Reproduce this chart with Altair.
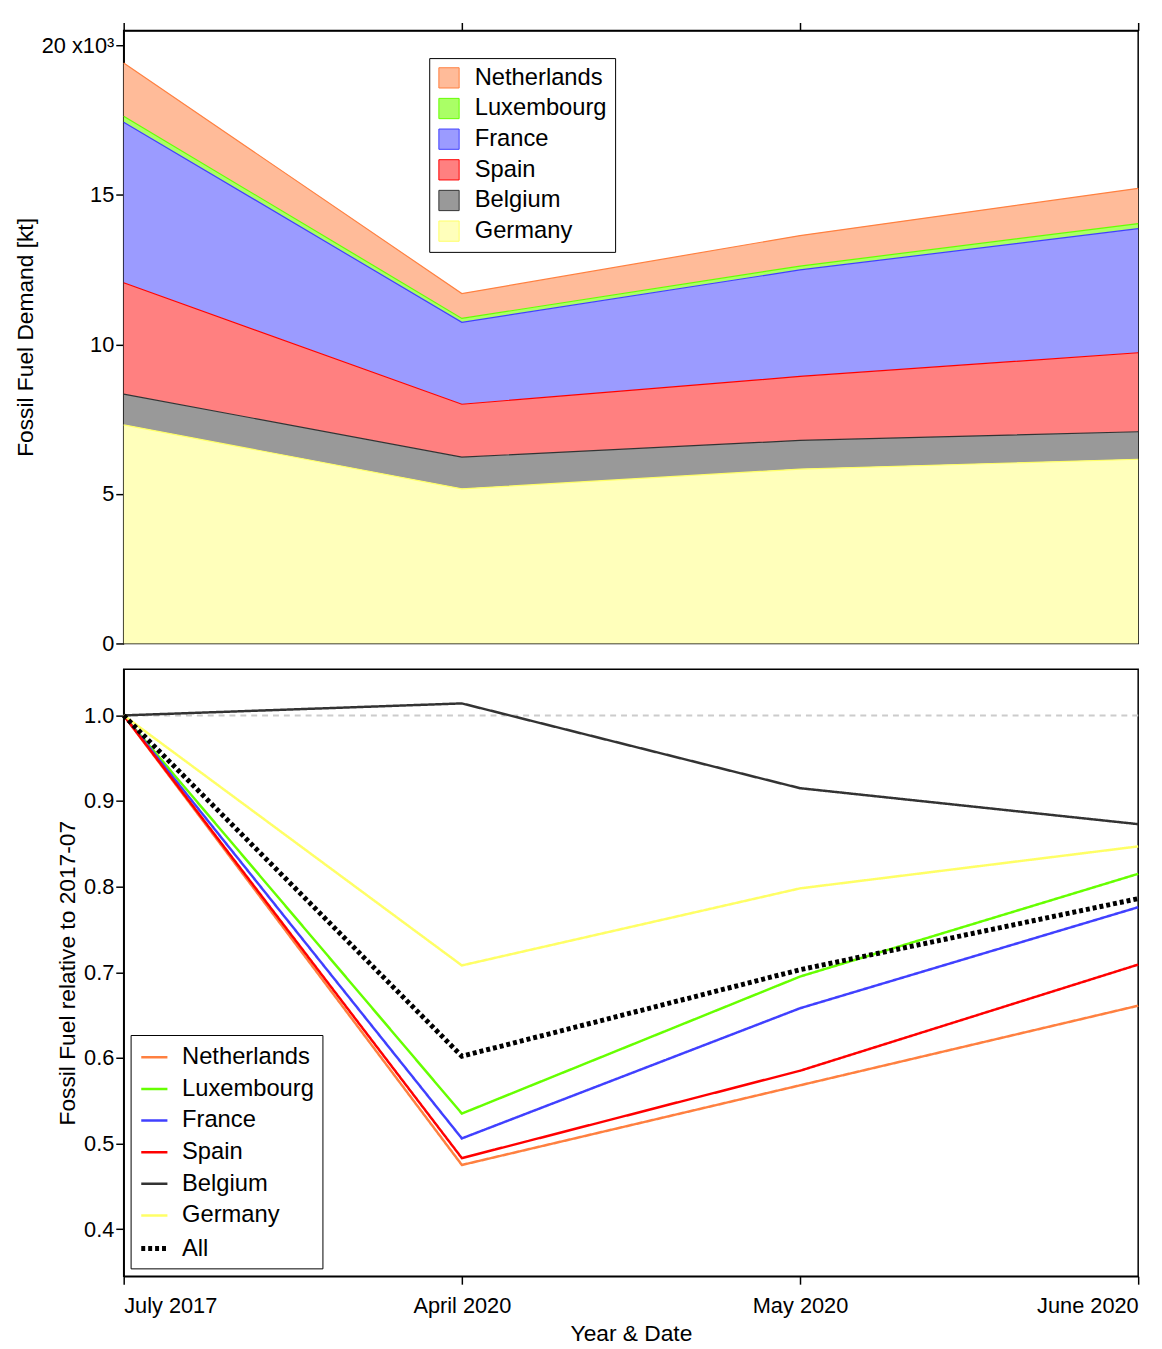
import altair as alt
import pandas as pd

dates = ["July 2017", "April 2020", "May 2020", "June 2020"]
countries = ["Netherlands", "Luxembourg", "France", "Spain", "Belgium", "Germany"]

# absolute demand [kt]
demand = {
    "Germany": [7.31, 5.17, 5.83, 6.16],
    "Belgium": [1.03, 1.06, 0.96, 0.92],
    "Spain": [3.72, 1.77, 2.14, 2.64],
    "France": [5.37, 2.74, 3.56, 4.15],
    "Luxembourg": [0.20, 0.13, 0.13, 0.17],
    "Netherlands": [1.78, 0.83, 1.02, 1.18],
}

# relative to 2017-07
relative = {
    "Netherlands": [1.0, 0.475, 0.568, 0.661],
    "Luxembourg": [1.0, 0.535, 0.695, 0.815],
    "France": [1.0, 0.506, 0.658, 0.776],
    "Spain": [1.0, 0.483, 0.585, 0.709],
    "Belgium": [1.0, 1.014, 0.915, 0.873],
    "Germany": [1.0, 0.708, 0.798, 0.847],
    "All": [1.0, 0.602, 0.703, 0.786],
}

fill_colors = ["#ffbb99", "#aaff66", "#9b9bff", "#ff8080", "#999999", "#ffffbb"]
line_colors = ["#ff8040", "#66ff00", "#4040ff", "#ff0000", "#333333", "#ffff66"]

FONT = "Liberation Sans"

rows = []
for c in countries:
    for i, v in enumerate(demand[c]):
        rows.append({"country": c, "idx": i, "value": v, "rank": countries.index(c)})
df_top = pd.DataFrame(rows)

rows = []
for c, vals in relative.items():
    for i, v in enumerate(vals):
        rows.append({"country": c, "idx": i, "value": v})
df_bot = pd.DataFrame(rows)

label_expr = "['July 2017','April 2020','May 2020','June 2020'][datum.value]"

x_top = alt.X("idx:Q", scale=alt.Scale(domain=[0, 3], nice=False),
              axis=alt.Axis(orient="top", values=[0, 1, 2, 3], labels=False, title=None,
                            grid=False, tickSize=8))
stack_order = alt.Order("rank:Q", sort="descending")

area = alt.Chart(df_top).mark_area(opacity=1).encode(
    x=x_top,
    y=alt.Y("value:Q", stack="zero",
            scale=alt.Scale(domain=[0, 20.5], nice=False),
            axis=alt.Axis(values=[0, 5, 10, 15, 20], title="Fossil Fuel Demand [kt]",
                          labelExpr="datum.value == 20 ? '20 x10³' : datum.value",
                          grid=False, tickSize=8)),
    color=alt.Color("country:N", scale=alt.Scale(domain=countries, range=fill_colors),
                    legend=alt.Legend(title=None, orient="none", legendX=309, legendY=28,
                                      symbolType="square", symbolSize=420,
                                      symbolStrokeColor="#444", symbolStrokeWidth=1,
                                      labelFontSize=24, rowPadding=5, labelOffset=14,
                                      strokeColor="black", padding=8, fillColor="white")),
    order=stack_order,
)
edges = alt.Chart(df_top).mark_line(strokeWidth=1.2).encode(
    x=x_top,
    y=alt.Y("value:Q", stack="zero"),
    detail="country:N",
    stroke=alt.Stroke("country:N", scale=alt.Scale(domain=countries, range=line_colors), legend=None),
    order=stack_order,
)
top = (area + edges).properties(width=1026, height=620)

all_names = countries + ["All"]
bot_legend = alt.Legend(
    title=None, orient="none", legendX=7, legendY=370,
    symbolType="stroke", symbolSize=700,
    labelFontSize=24, rowPadding=5, labelOffset=12,
    strokeColor="black", padding=8, fillColor="white",
)
x_bot = alt.X("idx:Q", scale=alt.Scale(domain=[0, 3], nice=False),
              axis=alt.Axis(values=[0, 1, 2, 3], labelExpr=label_expr, labelFlush=True,
                            title="Year & Date", grid=False, tickSize=8, labelPadding=12,
                            titlePadding=6))
ref = alt.Chart(pd.DataFrame({"y": [1.0]})).mark_rule(color="#cccccc", strokeDash=[6, 5], strokeWidth=2).encode(
    y="y:Q")
lines = alt.Chart(df_bot).mark_line().encode(
    x=x_bot,
    y=alt.Y("value:Q", scale=alt.Scale(domain=[0.345, 1.054], nice=False, zero=False),
            axis=alt.Axis(values=[0.4, 0.5, 0.6, 0.7, 0.8, 0.9, 1.0], format=".1f",
                          title="Fossil Fuel relative to 2017-07", grid=False, tickSize=8)),
    color=alt.Color("country:N", sort=all_names,
                    scale=alt.Scale(domain=all_names, range=line_colors + ["black"]),
                    legend=bot_legend),
    strokeDash=alt.StrokeDash("country:N", sort=all_names,
                              scale=alt.Scale(domain=all_names,
                                              range=[[1, 0]] * 6 + [[4, 3]]),
                              legend=bot_legend),
    strokeWidth=alt.StrokeWidth("country:N", sort=all_names,
                                scale=alt.Scale(type="ordinal", domain=all_names,
                                                range=[2.5] * 6 + [5]),
                                legend=bot_legend),
)
bottom = (ref + lines).properties(width=1026, height=614)

chart = alt.vconcat(top, bottom, spacing=13).resolve_scale(
    color="independent", stroke="independent",
    strokeDash="independent", strokeWidth="independent",
).resolve_legend(
    color="independent", strokeDash="independent", strokeWidth="independent",
).configure_view(stroke="black", strokeWidth=1.5).configure_axis(
    labelFont=FONT, titleFont=FONT, labelFontSize=22, titleFontSize=23,
    titleFontWeight="normal", labelColor="black", titleColor="black",
    domainColor="black", tickColor="black", domainWidth=1.5, tickWidth=1.5,
).configure_legend(labelFont=FONT, labelColor="black")

chart.save("out.html", embed_options={"renderer": "svg", "actions": False})
